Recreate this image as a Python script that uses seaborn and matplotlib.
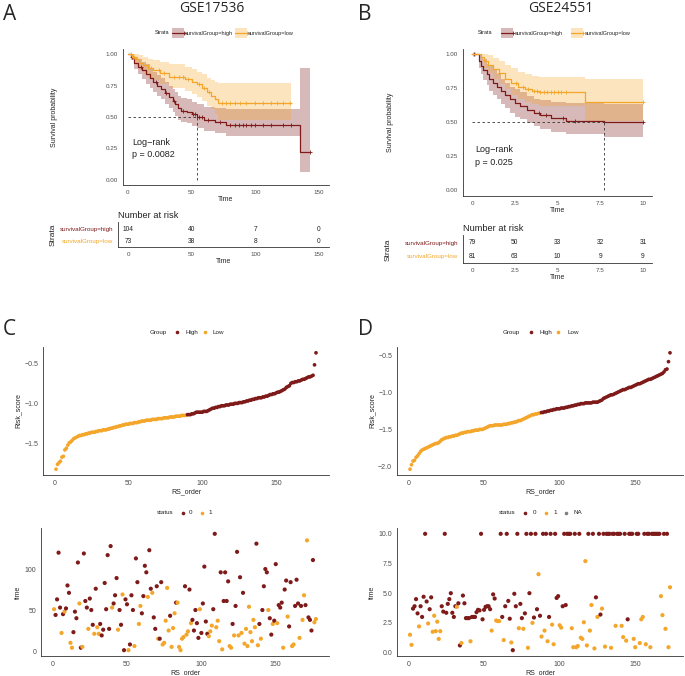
import numpy as np
import pandas as pd
import matplotlib
matplotlib.use("Agg")
import matplotlib.pyplot as plt
import seaborn as sns
from matplotlib.lines import Line2D
from matplotlib.patches import Rectangle

HIGH = "#7E1A1A"
LOW = "#F4A62A"

# ---- A: GSE17536 Kaplan-Meier (step points, 95% CI, censor times) ----
a_hi_t = [0, 2, 5, 8, 11, 14, 17, 20, 23, 26, 29, 32, 35, 37, 39, 42, 46, 50, 54, 60, 68, 77, 135, 143]
a_hi_s = [1.00, 0.98, 0.93, 0.90, 0.87, 0.84, 0.81, 0.78, 0.75, 0.72, 0.69, 0.66, 0.63, 0.60, 0.57, 0.55,
          0.54, 0.52, 0.50, 0.48, 0.46, 0.44, 0.22, 0.22]
a_hi_up = [1.00, 1.00, 0.98, 0.96, 0.94, 0.92, 0.89, 0.86, 0.83, 0.81, 0.78, 0.75, 0.72, 0.70, 0.67, 0.65,
           0.64, 0.62, 0.60, 0.58, 0.57, 0.56, 0.89, 0.89]
a_hi_lo = [1.00, 0.95, 0.88, 0.84, 0.80, 0.76, 0.73, 0.70, 0.67, 0.64, 0.60, 0.57, 0.54, 0.51, 0.48, 0.46,
           0.45, 0.43, 0.41, 0.39, 0.37, 0.35, 0.06, 0.06]
a_hi_cens = [3, 10, 22, 30, 36, 43, 51, 53, 56, 58, 63, 72, 80, 84, 87, 90, 93, 97, 100, 106, 112, 122, 128, 143]

a_lo_t = [0, 3, 6, 9, 12, 16, 20, 25, 32, 45, 50, 54, 58, 62, 65, 68, 71, 128]
a_lo_s = [1.00, 0.98, 0.96, 0.93, 0.91, 0.89, 0.87, 0.85, 0.82, 0.80, 0.78, 0.76, 0.73, 0.70, 0.67, 0.64,
          0.61, 0.61]
a_lo_up = [1.00, 1.00, 1.00, 0.99, 0.98, 0.96, 0.95, 0.94, 0.92, 0.90, 0.88, 0.86, 0.84, 0.81, 0.79, 0.78,
           0.77, 0.77]
a_lo_lo = [1.00, 0.95, 0.91, 0.87, 0.84, 0.81, 0.79, 0.76, 0.73, 0.71, 0.68, 0.66, 0.63, 0.59, 0.56, 0.52,
           0.48, 0.48]
a_lo_cens = [2, 5, 13, 18, 24, 28, 36, 40, 43, 47, 56, 60, 64, 74, 77, 80, 84, 88, 93, 100, 106, 112, 117,
             122, 127]

a_risk_times = [0, 50, 100, 150]
a_risk_high = [104, 40, 7, 0]
a_risk_low = [73, 38, 8, 0]

# ---- B: GSE24551 Kaplan-Meier ----
b_hi_t = [0, 0.4, 0.5, 0.65, 0.85, 1.0, 1.2, 1.45, 1.7, 1.9, 2.2, 2.5, 2.8, 3.2, 3.6, 4.0, 4.6, 5.5, 7.7, 10]
b_hi_s = [1.00, 0.95, 0.91, 0.88, 0.85, 0.82, 0.79, 0.76, 0.73, 0.70, 0.67, 0.64, 0.62, 0.59, 0.57, 0.55,
          0.53, 0.51, 0.50, 0.50]
b_hi_up = [1.00, 1.00, 0.98, 0.96, 0.93, 0.91, 0.88, 0.85, 0.82, 0.79, 0.76, 0.74, 0.72, 0.69, 0.67, 0.66,
           0.65, 0.64, 0.63, 0.63]
b_hi_lo = [1.00, 0.90, 0.85, 0.81, 0.77, 0.73, 0.70, 0.67, 0.63, 0.60, 0.57, 0.54, 0.52, 0.49, 0.47, 0.45,
           0.43, 0.41, 0.39, 0.39]
b_hi_cens = [0.1, 3.9, 4.3, 5.3, 6.0, 10]

b_lo_t = [0, 0.5, 0.7, 0.95, 1.25, 1.55, 1.9, 2.3, 2.7, 3.1, 3.5, 3.9, 6.6, 10]
b_lo_s = [1.00, 0.98, 0.95, 0.92, 0.89, 0.86, 0.82, 0.79, 0.76, 0.74, 0.73, 0.72, 0.645, 0.645]
b_lo_up = [1.00, 1.00, 1.00, 0.99, 0.97, 0.95, 0.92, 0.90, 0.87, 0.85, 0.84, 0.83, 0.82, 0.82]
b_lo_lo = [1.00, 0.95, 0.90, 0.86, 0.82, 0.78, 0.74, 0.70, 0.67, 0.65, 0.63, 0.62, 0.51, 0.51]
b_lo_cens = [0.05, 0.15, 1.6, 2.6, 3.0, 3.3, 3.6, 3.8, 4.0, 4.2, 4.4, 4.6, 4.8, 5.0, 5.2, 5.5, 10]

b_risk_times = [0, 2.5, 5, 7.5, 10]
b_risk_high = [79, 50, 33, 32, 31]
b_risk_low = [81, 63, 10, 9, 9]

# ---- C: GSE17536 risk score and survival time ----
c_risk = [-1.82, -1.76, -1.74, -1.72, -1.67, -1.66, -1.58, -1.56, -1.52, -1.49,
          -1.48, -1.46, -1.44, -1.43, -1.42, -1.41, -1.40, -1.40, -1.39, -1.39,
          -1.38, -1.38, -1.37, -1.37, -1.36, -1.36, -1.36, -1.35, -1.35, -1.34,
          -1.34, -1.34, -1.33, -1.33, -1.33, -1.32, -1.32, -1.31, -1.31, -1.30,
          -1.30, -1.29, -1.29, -1.28, -1.28, -1.27, -1.27, -1.26, -1.26, -1.26,
          -1.25, -1.25, -1.25, -1.24, -1.24, -1.24, -1.23, -1.23, -1.22, -1.22,
          -1.22, -1.21, -1.21, -1.21, -1.21, -1.20, -1.20, -1.20, -1.20, -1.19,
          -1.19, -1.19, -1.19, -1.18, -1.18, -1.18, -1.18, -1.17, -1.17, -1.17,
          -1.17, -1.16, -1.16, -1.16, -1.16, -1.15, -1.15, -1.15, -1.15,
          -1.14, -1.14, -1.14, -1.13, -1.13, -1.12, -1.11, -1.11, -1.11, -1.11,
          -1.11, -1.10, -1.10, -1.10, -1.09, -1.08, -1.07, -1.06, -1.06, -1.05,
          -1.05, -1.04, -1.04, -1.03, -1.03, -1.03, -1.02, -1.02, -1.02, -1.01,
          -1.01, -1.01, -1.00, -1.00, -1.00, -0.99, -0.99, -0.99, -0.98, -0.98,
          -0.97, -0.97, -0.96, -0.96, -0.95, -0.95, -0.94, -0.94, -0.93, -0.93,
          -0.93, -0.92, -0.92, -0.91, -0.91, -0.90, -0.89, -0.89, -0.88, -0.88,
          -0.87, -0.86, -0.86, -0.85, -0.84, -0.83, -0.82, -0.80, -0.79, -0.78,
          -0.75, -0.74, -0.74, -0.73, -0.73, -0.72, -0.72, -0.71, -0.70, -0.70,
          -0.69, -0.68, -0.67, -0.67, -0.66, -0.65, -0.52, -0.37]
c_group = ["Low"] * 89 + ["High"] * 88
c_time = [51, 44, 63, 120, 53, 22, 45, 48, 52, 80,
          71, 10, 4, 23, 48, 40, 108, 58, 4, 5,
          119, 61, 53, 27, 64, 50, 32, 21, 76, 29,
          21, 33, 19, 26, 83, 51, 117, 27, 128, 53,
          58, 68, 89, 26, 50, 32, 69, 1, 63, 57,
          1, 8, 68, 50, 6, 113, 84, 33, 55, 46,
          67, 104, 96, 66, 123, 76, 71, 41, 27, 79,
          15, 15, 84, 8, 10, 37, 77, 25, 43, 5,
          28, 46, 59, 59, 5, 1, 15, 17, 79, 20,
          24, 75, 34, 38, 25, 50, 34, 16, 51, 22,
          58, 103, 36, 21, 18, 24, 31, 51, 143, 29,
          37, 12, 96, 2, 61, 96, 61, 85, 6, 4,
          33, 19, 55, 121, 19, 90, 22, 71, 9, 27,
          6, 54, 23, 12, 38, 29, 131, 7, 33, 15,
          50, 79, 100, 96, 50, 40, 20, 33, 37, 106,
          34, 56, 53, 59, 4, 75, 86, 42, 30, 84,
          6, 8, 55, 87, 58, 16, 55, 38, 68, 56,
          135, 41, 38, 25, 111, 35, 39]
c_status = [1, 0, 0, 0, 0, 1, 0, 1, 0, 0,
            0, 1, 1, 0, 0, 0, 0, 1, 0, 1,
            0, 0, 0, 1, 0, 0, 0, 1, 0, 1,
            1, 0, 0, 0, 0, 0, 0, 0, 0, 1,
            0, 0, 0, 1, 0, 0, 1, 0, 0, 0,
            1, 0, 0, 0, 1, 0, 0, 1, 1, 0,
            0, 0, 0, 1, 0, 0, 1, 0, 0, 0,
            1, 0, 0, 1, 1, 1, 1, 1, 0, 1,
            1, 1, 0, 1, 1, 1, 1, 1, 0, 1,
            1, 0, 1, 0, 0, 0, 0, 0, 1, 0,
            0, 0, 0, 0, 1, 1, 1, 0, 0, 1,
            1, 1, 0, 1, 0, 0, 0, 0, 1, 1,
            0, 1, 0, 0, 1, 0, 1, 0, 1, 1,
            1, 1, 1, 1, 1, 1, 0, 1, 0, 1,
            0, 0, 0, 0, 1, 0, 0, 1, 0, 0,
            1, 0, 0, 0, 1, 0, 0, 1, 0, 0,
            1, 1, 0, 0, 0, 1, 0, 1, 1, 0,
            1, 0, 0, 0, 0, 1, 1]

# ---- D: GSE24551 risk score and survival time ----
d_risk = [-2.04, -1.98, -1.93, -1.92, -1.88, -1.86, -1.83, -1.80, -1.78, -1.77,
          -1.76, -1.75, -1.74, -1.73, -1.72, -1.71, -1.70, -1.69, -1.69, -1.68,
          -1.66, -1.64, -1.63, -1.62, -1.61, -1.61, -1.60, -1.60, -1.59, -1.59,
          -1.58, -1.58, -1.57, -1.56, -1.55, -1.55, -1.54, -1.54, -1.53, -1.53,
          -1.53, -1.52, -1.52, -1.51, -1.51, -1.51, -1.50, -1.50, -1.50, -1.49,
          -1.48, -1.47, -1.46, -1.45, -1.45, -1.45, -1.44, -1.44, -1.44, -1.44,
          -1.44, -1.44, -1.43, -1.43, -1.43, -1.42, -1.42, -1.41, -1.41, -1.40,
          -1.40, -1.39, -1.38, -1.38, -1.37, -1.36, -1.35, -1.34, -1.33, -1.32,
          -1.31, -1.30, -1.30, -1.29, -1.29, -1.28, -1.28,
          -1.27, -1.27, -1.26, -1.26, -1.25, -1.25, -1.24, -1.24, -1.23, -1.23,
          -1.22, -1.22, -1.22, -1.21, -1.21, -1.21, -1.20, -1.20, -1.19, -1.19,
          -1.18, -1.18, -1.17, -1.17, -1.16, -1.16, -1.15, -1.15, -1.15, -1.14,
          -1.14, -1.14, -1.14, -1.14, -1.13, -1.13, -1.13, -1.13, -1.12, -1.11,
          -1.10, -1.08, -1.07, -1.06, -1.05, -1.04, -1.03, -1.03, -1.02, -1.01,
          -1.00, -0.99, -0.98, -0.97, -0.96, -0.96, -0.95, -0.94, -0.93, -0.93,
          -0.92, -0.91, -0.90, -0.89, -0.88, -0.88, -0.87, -0.86, -0.85, -0.84,
          -0.83, -0.82, -0.82, -0.81, -0.80, -0.79, -0.78, -0.77, -0.76, -0.75,
          -0.74, -0.72, -0.69, -0.68, -0.58, -0.46]
d_group = ["Low"] * 87 + ["High"] * 86
d_time = [1.5, 0.65, 3.7, 3.9, 4.5, 3.3, 2.2, 3.9, 3.0, 4.7,
          10, 4.3, 2.45, 3.65, 4.65, 1.75, 3.1, 1.8, 2.6, 1.15,
          1.8, 3.9, 3.45, 10, 3.35, 4.1, 4.5, 5.0, 3.35, 3.0,
          3.9, 3.85, 4.15, 0.6, 0.8, 4.8, 4.15, 2.9, 2.9, 2.9,
          0.95, 3.0, 3.0, 3.0, 3.4, 3.6, 3.55, 10, 2.8, 3.6,
          3.85, 3.9, 3.9, 3.65, 1.85, 4.9, 4.55, 2.7, 2.65, 2.65,
          10, 3.0, 1.05, 3.9, 10, 4.35, 2.85, 0.85, 0.2, 4.95,
          3.9, 10, 2.05, 4.1, 2.9, 2.0, 3.3, 10, 0.4, 5.0,
          10, 2.5, 2.95, 10, 3.65, 6.6, 3.1, 1.35, 10, 1.85,
          10, 0.95, 3.0, 10, 2.35, 0.7, 10, 4.6, 4.75, 2.3,
          2.1, 3.9, 10, 4.0, 10, 10, 10, 2.05, 0.45, 10,
          0.45, 0.55, 10, 1.25, 1.15, 2.55, 7.7, 0.6, 10, 1.85,
          4.0, 10, 0.35, 4.65, 3.0, 10, 3.2, 3.7, 10, 0.5,
          10, 10, 10, 0.4, 10, 10, 2.25, 10, 10, 10,
          2.25, 1.3, 10, 1.0, 2.8, 10, 10, 10, 1.15, 0.45,
          10, 10, 0.8, 2.8, 3.0, 10, 0.7, 10, 10, 0.45,
          10, 10, 10, 10, 10, 10, 4.75, 3.15, 10, 2.0,
          10, 0.45, 5.5]
d_status = [1, 1, 0, 0, 0, 0, 1, 0, 0, 0,
            0, 0, 1, 0, 0, 1, 1, 1, 1, 1,
            1, 0, 0, 0, 0, 0, 0, 0, 0, 0,
            0, 1, 0, 0, 1, 0, 0, 0, 0, 0,
            1, 0, 0, 0, 0, 0, 0, 0, 0, 0,
            0, 0, 0, 0, 1, 0, 0, 1, 1, 1,
            0, 0, 1, 0, 0, 0, 0, 1, 0, 0,
            0, 0, 1, 0, 0, 1, 0, 0, 1, 0,
            0, 1, 0, 0, 0, 1, 0, 1, 0, 1,
            0, 1, 0, 0, 1, 1, 0, 0, 0, 1,
            1, 0, 0, 0, 0, 0, 0, 1, 1, 0,
            1, 1, 0, 1, 1, 1, 1, 1, 0, 1,
            1, 0, 1, 0, 1, 0, 0, 1, 0, 1,
            0, 0, 0, 1, 0, 0, 1, 0, 0, 0,
            1, 1, 0, 1, 0, 0, 0, 0, 1, 1,
            0, 0, 1, 1, 1, 0, 1, 0, 0, 1,
            0, 0, 0, 0, 0, 0, 1, 1, 0, 1,
            0, 1, 1]

# ---- figure setup ----
W, H = 685, 676
sns.set_style("white")
plt.rcParams["font.family"] = ["Liberation Sans", "DejaVu Sans"]
plt.rcParams["axes.unicode_minus"] = True
fig = plt.figure(figsize=(W / 100, H / 100), dpi=100)
INK = "#333333"
TICK = "#4D4D4D"


def box(l, t, r, b):
    return fig.add_axes([l / W, 1 - b / H, (r - l) / W, (b - t) / H])


def ftext(x, y, s, **kw):
    kw.setdefault("va", "center")
    fig.text(x / W, 1 - y / H, s, **kw)


def fdot(x, y, color, ms=2.6):
    fig.add_artist(Line2D([x / W], [1 - y / H], marker="o", ls="", color=color, ms=ms, mew=0,
                          transform=fig.transFigure))


def style(ax, size):
    sns.despine(ax=ax)
    for sp in ("left", "bottom"):
        ax.spines[sp].set_linewidth(0.6)
        ax.spines[sp].set_color(INK)
    ax.tick_params(length=2, width=0.5, color=INK, labelsize=size, labelcolor=TICK, pad=1.5)
    ax.grid(False)


def km_panel(ax, curves, xlim, ylim, xticks, xlabels, ptxt, xtxt):
    for t, s, lo, up, cens, col in curves:
        ax.fill_between(t, lo, up, step="post", color=col, alpha=0.3, lw=0)
        sns.lineplot(x=t, y=s, drawstyle="steps-post", color=col, lw=0.9, ax=ax,
                     estimator=None, sort=False)
        idx = np.searchsorted(t, cens, side="right") - 1
        ax.plot(cens, np.asarray(s)[idx], "+", color=col, ms=3, mew=0.6)
    # median survival of the high group
    t_hi, s_hi = curves[0][0], np.asarray(curves[0][1])
    med = t_hi[int(np.argmax(s_hi <= 0.5))]
    ax.plot([0, med], [0.5, 0.5], color=INK, lw=0.6, ls=(0, (3, 3)))
    ax.plot([med, med], [0, 0.5], color=INK, lw=0.6, ls=(0, (3, 3)))
    ax.text(xtxt, 0.30, "Log\u2212rank", fontsize=6.5, va="center", color="#222222")
    ax.text(xtxt, 0.20, ptxt, fontsize=6.5, va="center", color="#222222")
    ax.set_xlim(*xlim)
    ax.set_ylim(*ylim)
    ax.set_xticks(xticks)
    ax.set_xticklabels(xlabels)
    ax.set_yticks([0, 0.25, 0.5, 0.75, 1.0])
    ax.set_yticklabels(["0.00", "0.25", "0.50", "0.75", "1.00"])
    style(ax, 4.5)
    ax.set_xlabel("Time", fontsize=5, labelpad=1)
    ax.set_ylabel("")


def risk_table(ax, times, high, low, xlim, xticks, xlabels):
    for t, n in zip(times, high):
        ax.text(t, 1, str(n), ha="center", va="center", fontsize=4.8, color="#222222")
    for t, n in zip(times, low):
        ax.text(t, 0, str(n), ha="center", va="center", fontsize=4.8, color="#222222")
    ax.set_xlim(*xlim)
    ax.set_ylim(-0.5, 1.6)
    ax.set_xticks(xticks)
    ax.set_xticklabels(xlabels)
    ax.set_yticks([1, 0])
    ax.set_yticklabels(["survivalGroup=high", "survivalGroup=low"])
    style(ax, 4.5)
    ax.get_yticklabels()[0].set_color(HIGH)
    ax.get_yticklabels()[1].set_color(LOW)
    ax.set_xlabel("Time", fontsize=5, labelpad=1)
    ax.set_title("Number at risk", loc="left", fontsize=6.7, pad=3, color="#222222")


def km_legend(x0, xk1, xt1, xk2, xt2, y=33):
    ftext(x0, y, "Strata", fontsize=4, color="#222222")
    for xk, xt, col, lab in [(xk1, xt1, HIGH, "survivalGroup=high"), (xk2, xt2, LOW, "survivalGroup=low")]:
        fig.add_artist(Rectangle(((xk - 6) / W, 1 - (y + 5) / H), 12 / W, 10 / H, color=col, alpha=0.3,
                                 lw=0, transform=fig.transFigure))
        fig.add_artist(Line2D([(xk - 6) / W, (xk + 6) / W], [1 - y / H] * 2, color=col, lw=0.9,
                              marker="+", markevery=[1], ms=3, mew=0.6, transform=fig.transFigure))
        ftext(xt, y, lab, fontsize=4, color="#222222")


# ---- A ----
ax = box(123, 49, 329, 185)
km_panel(ax, [(a_hi_t, a_hi_s, a_hi_lo, a_hi_up, a_hi_cens, HIGH),
              (a_lo_t, a_lo_s, a_lo_lo, a_lo_up, a_lo_cens, LOW)],
         (-3.9, 157.9), (-0.04, 1.04), [0, 50, 100, 150], ["0", "50", "100", "150"], "p = 0.0082", 3)
ax = box(118, 222, 329, 247)
risk_table(ax, a_risk_times, a_risk_high, a_risk_low, (-7.9, 157.9), [0, 50, 100, 150],
           ["0", "50", "100", "150"])
ftext(55, 117, "Survival probability", fontsize=5, rotation=90, ha="center", color="#222222")
ftext(53, 235, "Strata", fontsize=6, rotation=90, ha="center", color="#222222")
km_legend(155, 178, 185, 241, 248)
ftext(212, 8, "GSE17536", fontsize=10, ha="center", family=["Open Sans", "DejaVu Sans"])
ftext(3, 14, "A", fontsize=15, family=["Open Sans", "DejaVu Sans"])

# ---- B ----
ax = box(463, 49, 652, 196)
km_panel(ax, [(b_hi_t, b_hi_s, b_hi_lo, b_hi_up, b_hi_cens, HIGH),
              (b_lo_t, b_lo_s, b_lo_lo, b_lo_up, b_lo_cens, LOW)],
         (-0.53, 10.53), (-0.044, 1.037), [0, 2.5, 5, 7.5, 10], ["0", "2.5", "5", "7.5", "10"], "p = 0.025", 0.2)
ax = box(463, 235, 652, 263)
risk_table(ax, b_risk_times, b_risk_high, b_risk_low, (-0.53, 10.53), [0, 2.5, 5, 7.5, 10],
           ["0", "2.5", "5", "7.5", "10"])
ftext(390, 122, "Survival probability", fontsize=5, rotation=90, ha="center", color="#222222")
ftext(388, 250, "Strata", fontsize=6, rotation=90, ha="center", color="#222222")
km_legend(478, 507, 515, 577, 585)
ftext(561, 8, "GSE24551", fontsize=10, ha="center", family=["Open Sans", "DejaVu Sans"])
ftext(358, 14, "B", fontsize=15, family=["Open Sans", "DejaVu Sans"])


# ---- C and D ----
def risk_panel(ax, risk, group, yticks):
    df = pd.DataFrame({"RS_order": np.arange(1, len(risk) + 1), "Risk_score": risk, "Group": group})
    sns.scatterplot(data=df, x="RS_order", y="Risk_score", hue="Group",
                    palette={"High": HIGH, "Low": LOW}, s=7, linewidth=0, legend=False, ax=ax)
    ax.set_yticks(yticks)
    ax.set_xticks([0, 50, 100, 150])
    style(ax, 5)
    ax.set_xlabel("RS_order", fontsize=5, labelpad=1)
    ax.set_ylabel("Risk_score", fontsize=5, labelpad=2)


def time_panel(ax, time, status, yticks, ylabels):
    df = pd.DataFrame({"RS_order": np.arange(1, len(time) + 1), "time": time,
                       "status": [str(v) for v in status]})
    sns.scatterplot(data=df, x="RS_order", y="time", hue="status",
                    palette={"0": HIGH, "1": LOW}, s=9, linewidth=0, legend=False, ax=ax)
    ax.set_yticks(yticks)
    ax.set_yticklabels(ylabels)
    ax.set_xticks([0, 50, 100, 150])
    style(ax, 5)
    ax.set_xlabel("RS_order", fontsize=5, labelpad=1)
    ax.set_ylabel("time", fontsize=5, labelpad=2)


ax = box(43, 347, 329, 475)
risk_panel(ax, c_risk, c_group, [-0.5, -1.0, -1.5])
ax = box(41, 528, 329, 656)
time_panel(ax, c_time, c_status, [0, 50, 100], ["0", "50", "100"])
ax = box(397, 347, 683, 475)
risk_panel(ax, d_risk, d_group, [-0.5, -1.0, -1.5, -2.0])
ax = box(397, 528, 683, 656)
time_panel(ax, d_time, d_status, [0, 2.5, 5, 7.5, 10], ["0.0", "2.5", "5.0", "7.5", "10.0"])

ftext(3, 330, "C", fontsize=15, family=["Open Sans", "DejaVu Sans"])
ftext(358, 330, "D", fontsize=15, family=["Open Sans", "DejaVu Sans"])

# scatter legends
ftext(150, 332, "Group", fontsize=4.5, color="#222222")
fdot(177, 332, HIGH); ftext(185, 332, "High", fontsize=4.5, color="#222222")
fdot(205, 332, LOW); ftext(213, 332, "Low", fontsize=4.5, color="#222222")
ftext(503, 332, "Group", fontsize=4.5, color="#222222")
fdot(531, 332, HIGH); ftext(539, 332, "High", fontsize=4.5, color="#222222")
fdot(558, 332, LOW); ftext(567, 332, "Low", fontsize=4.5, color="#222222")

ftext(157, 513, "status", fontsize=4.5, color="#222222")
fdot(183, 513, HIGH); ftext(189, 513, "0", fontsize=4.5, color="#222222")
fdot(202, 513, LOW); ftext(208, 513, "1", fontsize=4.5, color="#222222")
ftext(499, 513, "status", fontsize=4.5, color="#222222")
fdot(525, 513, HIGH); ftext(533, 513, "0", fontsize=4.5, color="#222222")
fdot(546, 513, LOW); ftext(553, 513, "1", fontsize=4.5, color="#222222")
fdot(566, 513, "#7F7F7F"); ftext(573, 513, "NA", fontsize=4.5, color="#222222")

fig.savefig("out.png", dpi=100)
